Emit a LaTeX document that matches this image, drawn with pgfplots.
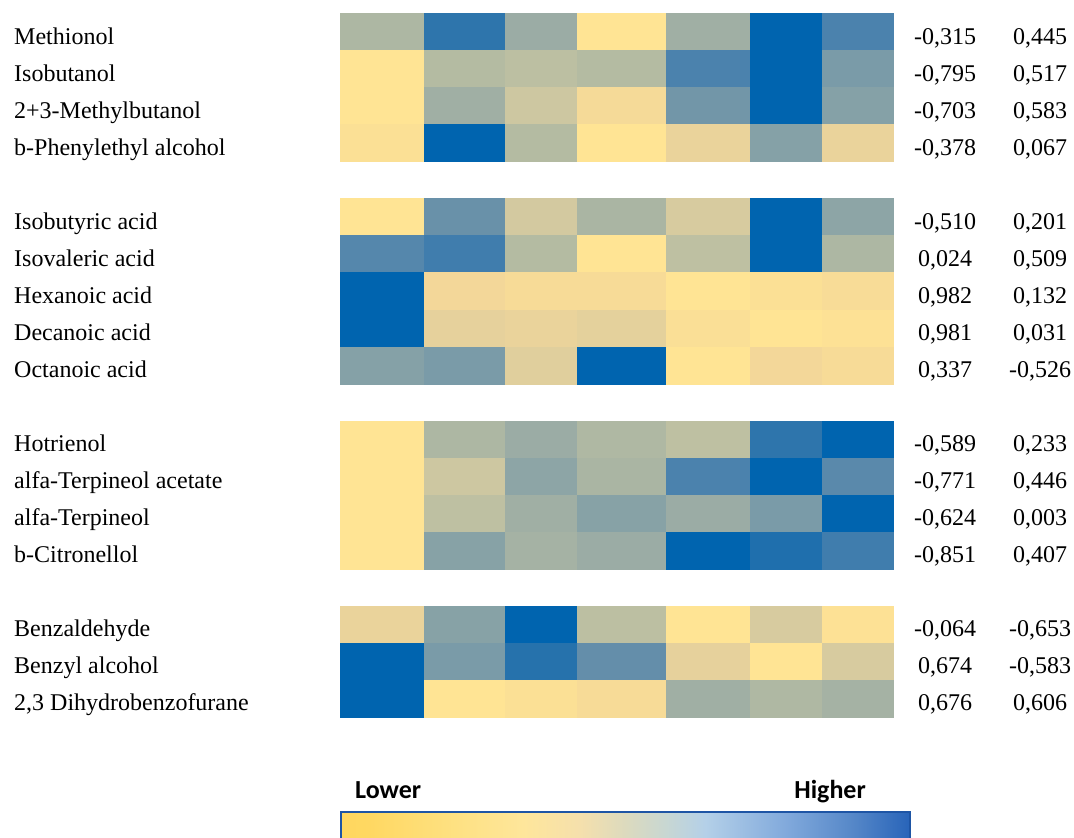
\documentclass[border=0pt]{standalone}
\usepackage{pgfplots}
\pgfplotsset{compat=1.18}
\usepackage{fontspec}
\setmainfont{Liberation Serif}
\newfontfamily\keyfont{Carlito}

\newcommand\labfont{\fontsize{24}{29}\selectfont}
\newcommand\bigkeyfont{\keyfont\bfseries\fontsize{26}{31}\selectfont}

% key bar below the heat map: golden yellow -> cream -> light blue -> blue
\pgfdeclarehorizontalshading{lowhigh}{100bp}{
  rgb(0bp)=(1,0.843,0.373);
  rgb(25bp)=(1,0.843,0.373);
  rgb(27.5bp)=(1,0.847,0.384);
  rgb(35bp)=(0.996,0.882,0.51);
  rgb(41bp)=(0.996,0.902,0.608);
  rgb(46bp)=(0.961,0.878,0.675);
  rgb(50bp)=(0.863,0.855,0.745);
  rgb(53.5bp)=(0.784,0.843,0.824);
  rgb(57bp)=(0.706,0.816,0.91);
  rgb(64bp)=(0.51,0.667,0.863);
  rgb(70bp)=(0.333,0.529,0.784);
  rgb(75bp)=(0.157,0.392,0.725);
  rgb(100bp)=(0.157,0.392,0.725)}
\definecolor{keyframe}{RGB}{30,85,165}

\begin{document}
\begin{tikzpicture}
\begin{axis}[
  at={(0pt,0pt)}, anchor=south west,
  width=1074pt, height=838pt, scale only axis,
  xmin=0, xmax=1074, ymin=0, ymax=838, y dir=reverse,
  hide axis,
  colormap={yellowblue}{
    rgb255(0cm)=(255,228,148); rgb255(1cm)=(243,215,153);
    rgb255(2cm)=(224,207,157); rgb255(3cm)=(205,199,161);
    rgb255(4cm)=(180,187,162); rgb255(5cm)=(155,172,165);
    rgb255(6cm)=(127,158,167); rgb255(7cm)=(100,142,170);
    rgb255(8cm)=(75,130,173);  rgb255(9cm)=(38,114,172);
    rgb255(10cm)=(0,100,175)},
  point meta min=0, point meta max=1,
]
% Each cell takes the value stored at its top-left corner;
% the last column and the last scanline of every block only close the mesh.
% Block 1: alcohols
\addplot[surf, shader=flat corner, mesh/cols=8, point meta=explicit] coordinates {
(340,13.3)[0.43] (424,13.3)[0.88] (505,13.3)[0.50] (577,13.3)[0.00] (666,13.3)[0.48] (750,13.3)[1.00] (822,13.3)[0.80] (893,13.3)[0]
(340,50.35)[0.00] (424,50.35)[0.40] (505,50.35)[0.37] (577,50.35)[0.40] (666,50.35)[0.80] (750,50.35)[1.00] (822,50.35)[0.62] (893,50.35)[0]
(340,87.4)[0.00] (424,87.4)[0.48] (505,87.4)[0.30] (577,87.4)[0.08] (666,87.4)[0.65] (750,87.4)[1.00] (822,87.4)[0.58] (893,87.4)[0]
(340,124.45)[0.03] (424,124.45)[1.00] (505,124.45)[0.40] (577,124.45)[0.00] (666,124.45)[0.15] (750,124.45)[0.58] (822,124.45)[0.15] (893,124.45)[0]
(340,161.5)[0] (424,161.5)[0] (505,161.5)[0] (577,161.5)[0] (666,161.5)[0] (750,161.5)[0] (822,161.5)[0] (893,161.5)[0]
};
% Block 2: acids
\addplot[surf, shader=flat corner, mesh/cols=8, point meta=explicit] coordinates {
(340,198.55)[0.00] (424,198.55)[0.68] (505,198.55)[0.27] (577,198.55)[0.44] (666,198.55)[0.25] (750,198.55)[1.00] (822,198.55)[0.55] (893,198.55)[0]
(340,235.6)[0.76] (424,235.6)[0.83] (505,235.6)[0.40] (577,235.6)[0.00] (666,235.6)[0.36] (750,235.6)[1.00] (822,235.6)[0.43] (893,235.6)[0]
(340,272.65)[1.00] (424,272.65)[0.10] (505,272.65)[0.07] (577,272.65)[0.07] (666,272.65)[0.00] (750,272.65)[0.03] (822,272.65)[0.06] (893,272.65)[0]
(340,309.7)[1.00] (424,309.7)[0.17] (505,309.7)[0.15] (577,309.7)[0.18] (666,309.7)[0.04] (750,309.7)[0.00] (822,309.7)[0.02] (893,309.7)[0]
(340,346.75)[0.58] (424,346.75)[0.62] (505,346.75)[0.20] (577,346.75)[1.00] (666,346.75)[0.00] (750,346.75)[0.10] (822,346.75)[0.07] (893,346.75)[0]
(340,383.8)[0] (424,383.8)[0] (505,383.8)[0] (577,383.8)[0] (666,383.8)[0] (750,383.8)[0] (822,383.8)[0] (893,383.8)[0]
};
% Block 3: terpenes
\addplot[surf, shader=flat corner, mesh/cols=8, point meta=explicit] coordinates {
(340,420.85)[0.00] (424,420.85)[0.43] (505,420.85)[0.50] (577,420.85)[0.42] (666,420.85)[0.36] (750,420.85)[0.88] (822,420.85)[1.00] (893,420.85)[0]
(340,457.9)[0.00] (424,457.9)[0.30] (505,457.9)[0.55] (577,457.9)[0.44] (666,457.9)[0.80] (750,457.9)[1.00] (822,457.9)[0.74] (893,457.9)[0]
(340,494.95)[0.00] (424,494.95)[0.36] (505,494.95)[0.48] (577,494.95)[0.57] (666,494.95)[0.50] (750,494.95)[0.62] (822,494.95)[1.00] (893,494.95)[0]
(340,532.0)[0.00] (424,532.0)[0.57] (505,532.0)[0.46] (577,532.0)[0.50] (666,532.0)[1.00] (750,532.0)[0.92] (822,532.0)[0.83] (893,532.0)[0]
(340,569.05)[0] (424,569.05)[0] (505,569.05)[0] (577,569.05)[0] (666,569.05)[0] (750,569.05)[0] (822,569.05)[0] (893,569.05)[0]
};
% Block 4: benzenoids
\addplot[surf, shader=flat corner, mesh/cols=8, point meta=explicit] coordinates {
(340,606.1)[0.15] (424,606.1)[0.57] (505,606.1)[1.00] (577,606.1)[0.37] (666,606.1)[0.00] (750,606.1)[0.25] (822,606.1)[0.02] (893,606.1)[0]
(340,643.15)[1.00] (424,643.15)[0.62] (505,643.15)[0.90] (577,643.15)[0.70] (666,643.15)[0.17] (750,643.15)[0.00] (822,643.15)[0.25] (893,643.15)[0]
(340,680.2)[1.00] (424,680.2)[0.00] (505,680.2)[0.03] (577,680.2)[0.07] (666,680.2)[0.48] (750,680.2)[0.42] (822,680.2)[0.46] (893,680.2)[0]
(340,717.25)[0] (424,717.25)[0] (505,717.25)[0] (577,717.25)[0] (666,717.25)[0] (750,717.25)[0] (822,717.25)[0] (893,717.25)[0]
};
\end{axis}

% row names and the two score columns (y measured downward from the top edge)
\begin{scope}[yshift=838pt, x=1pt, y=-1pt]
\foreach \k/\name/\a/\b in {
  0/Methionol/{-0,315}/{0,445},
  1/Isobutanol/{-0,795}/{0,517},
  2/2+3-Methylbutanol/{-0,703}/{0,583},
  3/b-Phenylethyl alcohol/{-0,378}/{0,067},
  5/Isobutyric acid/{-0,510}/{0,201},
  6/Isovaleric acid/{0,024}/{0,509},
  7/Hexanoic acid/{0,982}/{0,132},
  8/Decanoic acid/{0,981}/{0,031},
  9/Octanoic acid/{0,337}/{-0,526},
  11/Hotrienol/{-0,589}/{0,233},
  12/alfa-Terpineol acetate/{-0,771}/{0,446},
  13/alfa-Terpineol/{-0,624}/{0,003},
  14/b-Citronellol/{-0,851}/{0,407},
  16/Benzaldehyde/{-0,064}/{-0,653},
  17/Benzyl alcohol/{0,674}/{-0,583},
  18/{2,3 Dihydrobenzofurane}/{0,676}/{0,606}} {
  \node[anchor=base west, inner sep=0pt, font=\labfont] at (14, 44.1+37.05*\k) {\name};
  \node[anchor=base, inner sep=0pt, font=\labfont] at (945, 44.1+37.05*\k) {\a};
  \node[anchor=base, inner sep=0pt, font=\labfont] at (1040, 44.1+37.05*\k) {\b};
}
% key
\path[shading=lowhigh, draw=keyframe, line width=2pt] (341,812) rectangle (910,870);
\node[anchor=base west, inner sep=0pt, font=\bigkeyfont] at (355,799) {Lower};
\node[anchor=base east, inner sep=0pt, font=\bigkeyfont] at (866,799) {Higher};
\end{scope}

\pgfresetboundingbox
\useasboundingbox (0pt,0pt) rectangle (1074pt,838pt);
\end{tikzpicture}
\end{document}
